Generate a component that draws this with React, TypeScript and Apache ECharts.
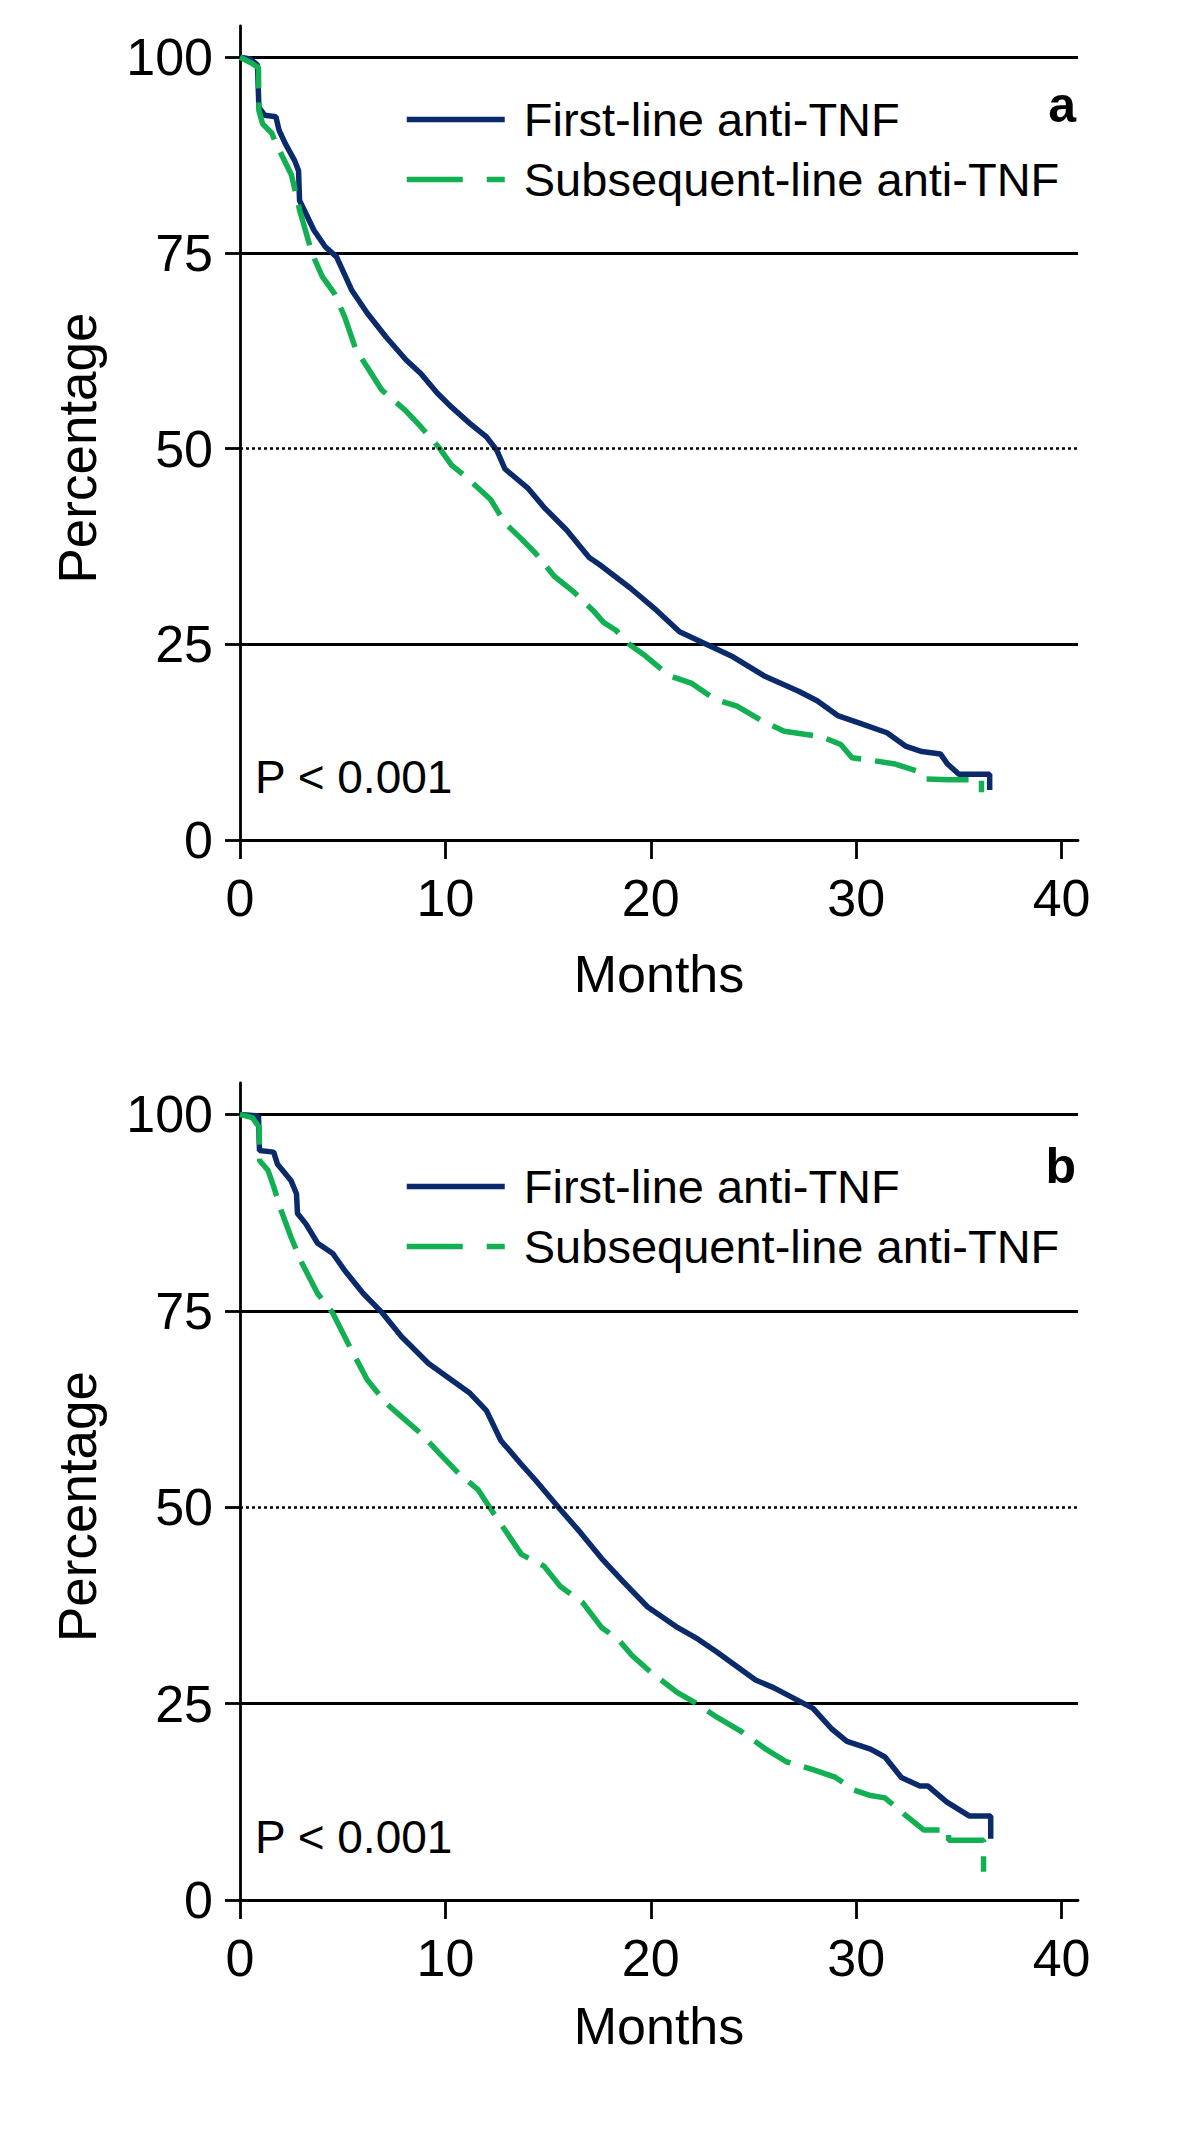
import React, { useEffect, useRef } from "react";
import * as echarts from "echarts";

// ---------- data ----------
const xTicks = [0, 10, 20, 30, 40];
const yTicks = [0, 25, 50, 75, 100];
const seriesNames = ["First-line anti-TNF", "Subsequent-line anti-TNF"];
const panelLabels = ["a", "b"];
const pValueText = "P < 0.001";
const xTitle = "Months";
const yTitle = "Percentage";

// Panel a – first-line anti-TNF
const aFirstMonths = [0, 0.5, 0.85, 0.92, 1.2, 1.75, 1.9, 2.2, 2.66, 2.85, 2.9, 3.6, 4.15, 4.7, 5.45, 6.2, 7.1, 8.1, 8.8, 9.6, 10.3, 11.2, 12.0, 12.5, 12.9, 14.0, 14.8, 15.9, 17.0, 17.5, 19.0, 20.3, 21.4, 22.7, 24.0, 25.5, 27.2, 28.1, 29.1, 30.2, 31.5, 32.4, 33.2, 34.1, 34.45, 35.0, 36.5, 36.5];
const aFirstPct = [100, 99.8, 99.0, 93.6, 92.6, 92.4, 90.7, 89.0, 86.8, 85.5, 81.7, 77.9, 75.8, 74.5, 70.2, 67.3, 64.3, 61.3, 59.6, 57.1, 55.3, 53.2, 51.5, 49.8, 47.4, 45.0, 42.5, 39.6, 36.1, 35.2, 32.2, 29.3, 26.6, 25.0, 23.4, 21.0, 19.0, 17.8, 15.9, 14.9, 13.7, 12.0, 11.3, 11.0, 9.7, 8.4, 8.4, 6.4];

// Panel a – subsequent-line anti-TNF
const aSubMonths = [0, 0.6, 0.9, 0.92, 1.1, 1.55, 1.75, 2.5, 2.9, 3.5, 4.0, 4.6, 5.1, 5.65, 6.2, 6.9, 8.05, 8.8, 9.7, 10.3, 11.0, 12.2, 12.9, 13.65, 14.4, 15.3, 16.25, 17.2, 17.7, 18.3, 19.0, 19.75, 20.9, 22.0, 23.1, 24.2, 25.5, 26.5, 28.3, 29.25, 29.8, 30.7, 31.9, 33.0, 33.4, 34.5, 36.1, 36.1];
const aSubPct = [100, 99.2, 98.7, 93.2, 91.5, 90.3, 89.0, 85.0, 80.5, 75.0, 72.0, 69.8, 66.8, 62.6, 60.4, 57.5, 54.9, 52.8, 50.1, 47.9, 46.4, 43.5, 40.5, 38.6, 36.6, 33.7, 31.7, 29.3, 27.8, 26.8, 24.9, 23.5, 21.0, 20.0, 18.0, 17.1, 15.1, 13.9, 13.2, 12.2, 10.5, 10.2, 9.7, 8.8, 7.8, 7.7, 7.7, 6.1];

// Panel b – first-line anti-TNF
const bFirstMonths = [0, 0.9, 0.95, 1.64, 1.82, 2.48, 2.75, 2.8, 3.2, 3.78, 4.52, 5.08, 6.0, 6.94, 7.87, 9.18, 10.3, 11.2, 12.0, 12.7, 13.65, 14.4, 15.5, 16.6, 17.6, 18.7, 19.85, 21.3, 22.3, 23.2, 25.1, 26.0, 27.9, 28.8, 29.55, 30.7, 31.4, 32.2, 33.1, 33.5, 34.4, 35.5, 36.55, 36.55];
const bFirstPct = [100, 99.8, 95.4, 95.2, 93.7, 91.6, 89.9, 87.4, 86.1, 83.6, 82.3, 80.2, 77.2, 74.7, 71.7, 68.3, 66.2, 64.5, 62.3, 58.5, 55.6, 53.4, 50.0, 46.7, 43.5, 40.4, 37.3, 34.7, 33.2, 31.6, 28.0, 27.0, 24.4, 21.8, 20.2, 19.2, 18.2, 15.6, 14.5, 14.5, 12.5, 10.7, 10.7, 7.8];

// Panel b – subsequent-line anti-TNF
const bSubMonths = [0, 0.6, 0.93, 0.96, 1.36, 1.64, 2.0, 2.48, 3.03, 3.78, 4.52, 5.27, 6.2, 7.13, 7.87, 8.8, 9.73, 10.65, 11.6, 12.15, 12.9, 13.7, 14.8, 15.6, 16.7, 17.6, 18.4, 19.1, 20.0, 21.3, 22.3, 23.2, 24.5, 25.6, 26.6, 27.9, 29.0, 29.9, 30.7, 31.4, 32.35, 33.3, 34.5, 34.5, 36.2, 36.2];
const bSubPct = [100, 99.6, 98.4, 94.1, 92.9, 90.8, 87.8, 84.4, 81.0, 77.2, 74.7, 70.8, 66.2, 63.2, 61.5, 59.4, 56.8, 54.3, 52.2, 50.0, 47.1, 44.0, 42.5, 39.9, 37.8, 34.7, 33.2, 31.1, 29.0, 26.4, 24.9, 23.3, 21.3, 19.2, 17.6, 16.6, 15.6, 14.0, 13.3, 13.0, 10.9, 8.9, 8.9, 7.6, 7.6, 3.6];

// ---------- styling ----------
const FONT = "'Liberation Sans', Arial, Helvetica, sans-serif";
const NAVY = "#0b2a6b";
const GREEN = "#12b052";
const BLACK = "#000000";

const zip = (xs: number[], ys: number[]) => xs.map((x, i) => [x, ys[i]]);

const panels = [
  { top: 26, height: 814, legendTop: 96, nameGapX: 108, letterY: 105, pY: 777, first: zip(aFirstMonths, aFirstPct), sub: zip(aSubMonths, aSubPct) },
  { top: 1083, height: 817, legendTop: 1163, nameGapX: 100, letterY: 1166, pY: 1837, first: zip(bFirstMonths, bFirstPct), sub: zip(bSubMonths, bSubPct) },
];

export default function App() {
  const ref = useRef<HTMLDivElement | null>(null);

  useEffect(() => {
    if (!ref.current) return;
    const chart = echarts.init(ref.current, undefined, { renderer: "svg" });

    const axisLineStyle = { color: BLACK, width: 2.8 };

    const option: any = {
      animation: false,
      backgroundColor: "#ffffff",
      grid: panels.map((p) => ({
        left: 240,
        top: p.top,
        width: 838,
        height: p.height,
        containLabel: false,
        outerBoundsMode: "none",
      })),
      xAxis: panels.map((p, i) => ({
        gridIndex: i,
        type: "value",
        min: 0,
        max: 40.8,
        interval: 10,
        axisLine: { show: true, onZero: false, lineStyle: axisLineStyle },
        axisTick: { show: true, inside: false, length: 19, customValues: xTicks, lineStyle: axisLineStyle },
        axisLabel: {
          show: true,
          customValues: xTicks,
          formatter: (v: number) => (xTicks.includes(v) ? String(v) : ""),
          margin: 32,
          fontSize: 52,
          color: BLACK,
          fontFamily: FONT,
        },
        splitLine: { show: false },
        name: xTitle,
        nameLocation: "middle",
        nameGap: p.nameGapX,
        nameTextStyle: { fontSize: 52, color: BLACK, fontFamily: FONT },
      })),
      yAxis: panels.map((p, i) => ({
        gridIndex: i,
        type: "value",
        min: 0,
        max: 104,
        interval: 25,
        axisLine: { show: true, onZero: false, lineStyle: axisLineStyle },
        axisTick: { show: true, inside: false, length: 15, customValues: yTicks, lineStyle: axisLineStyle },
        axisLabel: {
          show: true,
          customValues: yTicks,
          formatter: (v: number) => (yTicks.includes(v) ? String(v) : ""),
          margin: 27,
          fontSize: 52,
          color: BLACK,
          fontFamily: FONT,
        },
        splitLine: {
          show: true,
          lineStyle: {
            color: [BLACK, BLACK, "rgba(0,0,0,0)", BLACK, BLACK, "rgba(0,0,0,0)"],
            width: 2.8,
          },
        },
        name: yTitle,
        nameLocation: "middle",
        nameGap: 136,
        nameTextStyle: { fontSize: 53, color: BLACK, fontFamily: FONT, padding: [0, 30, 0, 0] },
      })),
      legend: panels.map((p) => ({
        show: true,
        orient: "vertical",
        left: 404,
        top: p.legendTop,
        padding: 0,
        itemWidth: 98,
        itemHeight: 14,
        itemGap: 13,
        selectedMode: false,
        textStyle: { fontSize: 47, lineHeight: 47, color: BLACK, fontFamily: FONT, padding: [0, 0, 0, 14] },
        data: [
          {
            name: seriesNames[0],
            itemStyle: { opacity: 0, borderWidth: 0 },
            lineStyle: { color: NAVY, width: 5.5, type: "solid" },
          },
          {
            name: seriesNames[1],
            itemStyle: { opacity: 0, borderWidth: 0 },
            lineStyle: { color: GREEN, width: 5.5, type: [56, 24] },
          },
        ],
      })),
      series: panels.flatMap((p, i) => [
        {
          name: seriesNames[0],
          type: "line",
          xAxisIndex: i,
          yAxisIndex: i,
          data: p.first,
          symbol: "none",
          showSymbol: false,
          silent: true,
          z: 3,
          color: NAVY,
          lineStyle: { color: NAVY, width: 5.5, type: "solid" },
          itemStyle: { color: NAVY },
          emphasis: { disabled: true },
          markLine: {
            silent: true,
            symbol: ["none", "none"],
            label: { show: false },
            lineStyle: { color: BLACK, type: [3, 3], width: 2.5 },
            emphasis: { disabled: true },
            data: [{ yAxis: 50 }],
          },
        },
        {
          name: seriesNames[1],
          type: "line",
          xAxisIndex: i,
          yAxisIndex: i,
          data: p.sub,
          symbol: "none",
          showSymbol: false,
          silent: true,
          z: 4,
          color: GREEN,
          lineStyle: { color: GREEN, width: 5.5, type: [42, 14] },
          itemStyle: { color: GREEN },
          emphasis: { disabled: true },
        },
      ]),
      graphic: panels.flatMap((p, i) => [
        {
          type: "text",
          silent: true,
          style: {
            text: panelLabels[i],
            x: 1076,
            y: p.letterY,
            align: "right",
            verticalAlign: "middle",
            fill: BLACK,
            font: `bold 50px ${FONT}`,
          },
        },
        {
          type: "text",
          silent: true,
          style: {
            text: pValueText,
            x: 255,
            y: p.pY,
            align: "left",
            verticalAlign: "middle",
            fill: BLACK,
            font: `46px ${FONT}`,
          },
        },
      ]),
    };

    chart.setOption(option);
    return () => chart.dispose();
  }, []);

  return (
    <div
      ref={ref}
      style={{ position: "absolute", left: 0, top: 0, width: 1200, height: 2143, background: "#ffffff" }}
    />
  );
}
